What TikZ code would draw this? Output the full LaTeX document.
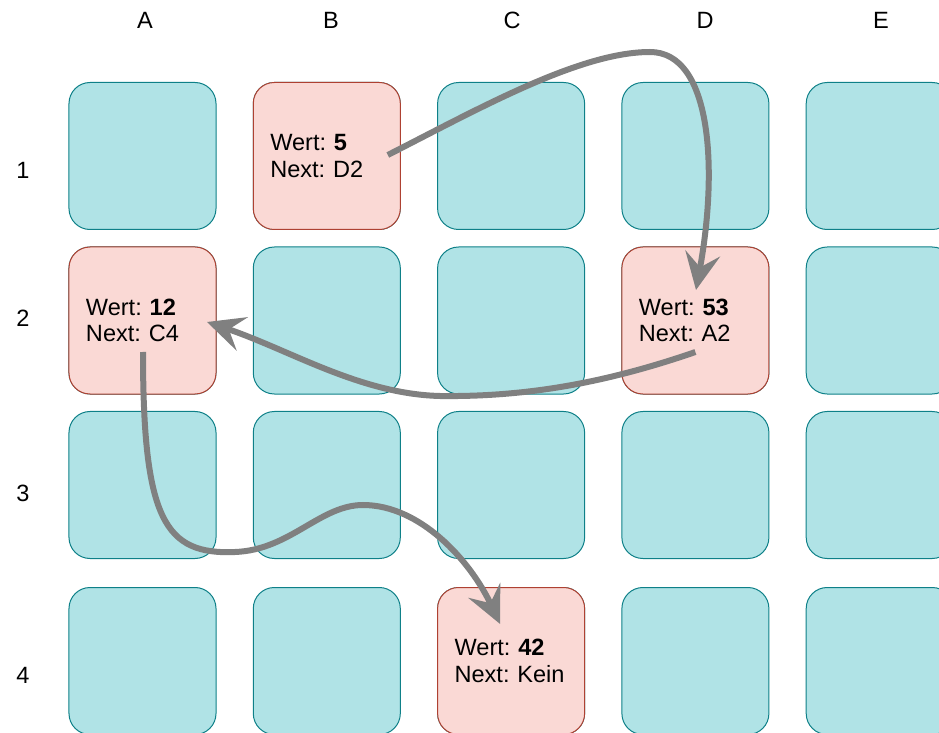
\documentclass[tikz,border=0pt]{standalone}
\usepackage{fontspec}
\setmainfont{Liberation Sans}
\usetikzlibrary{arrows.meta}
\definecolor{cellfill}{HTML}{B0E3E6}
\definecolor{celldraw}{HTML}{0E8088}
\definecolor{usedfill}{HTML}{FAD9D5}
\definecolor{useddraw}{HTML}{AE4132}
\definecolor{linkgray}{HTML}{808080}
\tikzset{
  >={Stealth[length=7.4mm,width=7mm,inset=2.8mm]},
  cell/.style={draw=celldraw,fill=cellfill,line width=0.2mm,rounded corners=4.2mm,
    minimum width=29.4mm,minimum height=29.4mm,inner sep=0pt},
  used/.style={cell,draw=useddraw,fill=usedfill,text width=22.6mm,align=left,
    inner xsep=3.4mm,font=\fontsize{13.4}{15}\selectfont\frenchspacing},
  axis/.style={font=\fontsize{13.4}{15}\selectfont},
  link/.style={->,draw=linkgray,line width=1.2mm},
}
\begin{document}
\begin{tikzpicture}[x=0.2mm,y=-0.2mm]
  \useasboundingbox (0,0) rectangle (939,733);
  \clip (0,0) rectangle (939,733);
  % column and row heads
  \foreach \c/\x in {A/145,B/331,C/512,D/705,E/881}
    \node[axis] (head\c) at (\x,20.5) {\c};
  \foreach \r/\y in {1/170,2/318,3/493,4/675}
    \node[axis] (row\r) at (23,\y) {\r};
  % memory cells
  \foreach \c/\x in {a/142.5,b/326.8,c/511.1,d/695.4,e/879.7}
    \foreach \r/\y in {1/156,2/320.5,3/485,4/661}
      \node[cell] (free\c\r) at (\x,\y) {};
  \node[used] (b1) at (326.8,156) {Wert: \textbf{5}\\Next: D2};
  \node[used] (d2) at (695.4,320.5) {Wert: \textbf{53}\\Next: A2};
  \node[used] (a2) at (142.5,320.5) {Wert: \textbf{12}\\Next: C4};
  \node[used] (c4) at (511.1,661) {Wert: \textbf{42}\\Next: Kein};
  % list pointers
  \draw[link] ([shift={(61,-1)}]b1.center) .. controls (480,108) and (580,52) .. (650,52)
    .. controls (712,52) and (718,170) .. ([shift={(0.6,-30.5)}]d2.center);
  \draw[link] ([shift={(0,31.5)}]d2.center) .. controls (600,385) and (520,397) .. (440,396)
    .. controls (360,394) and (290,350) .. ([shift={(64.5,1.5)}]a2.center);
  \draw[link] ([shift={(0.5,31.5)}]a2.center) .. controls (143,520) and (165,555) .. (235,552)
    .. controls (290,550) and (320,505) .. (363,505)
    .. controls (420,505) and (470,560) .. ([shift={(-11,-37)}]c4.center);
\end{tikzpicture}
\end{document}
